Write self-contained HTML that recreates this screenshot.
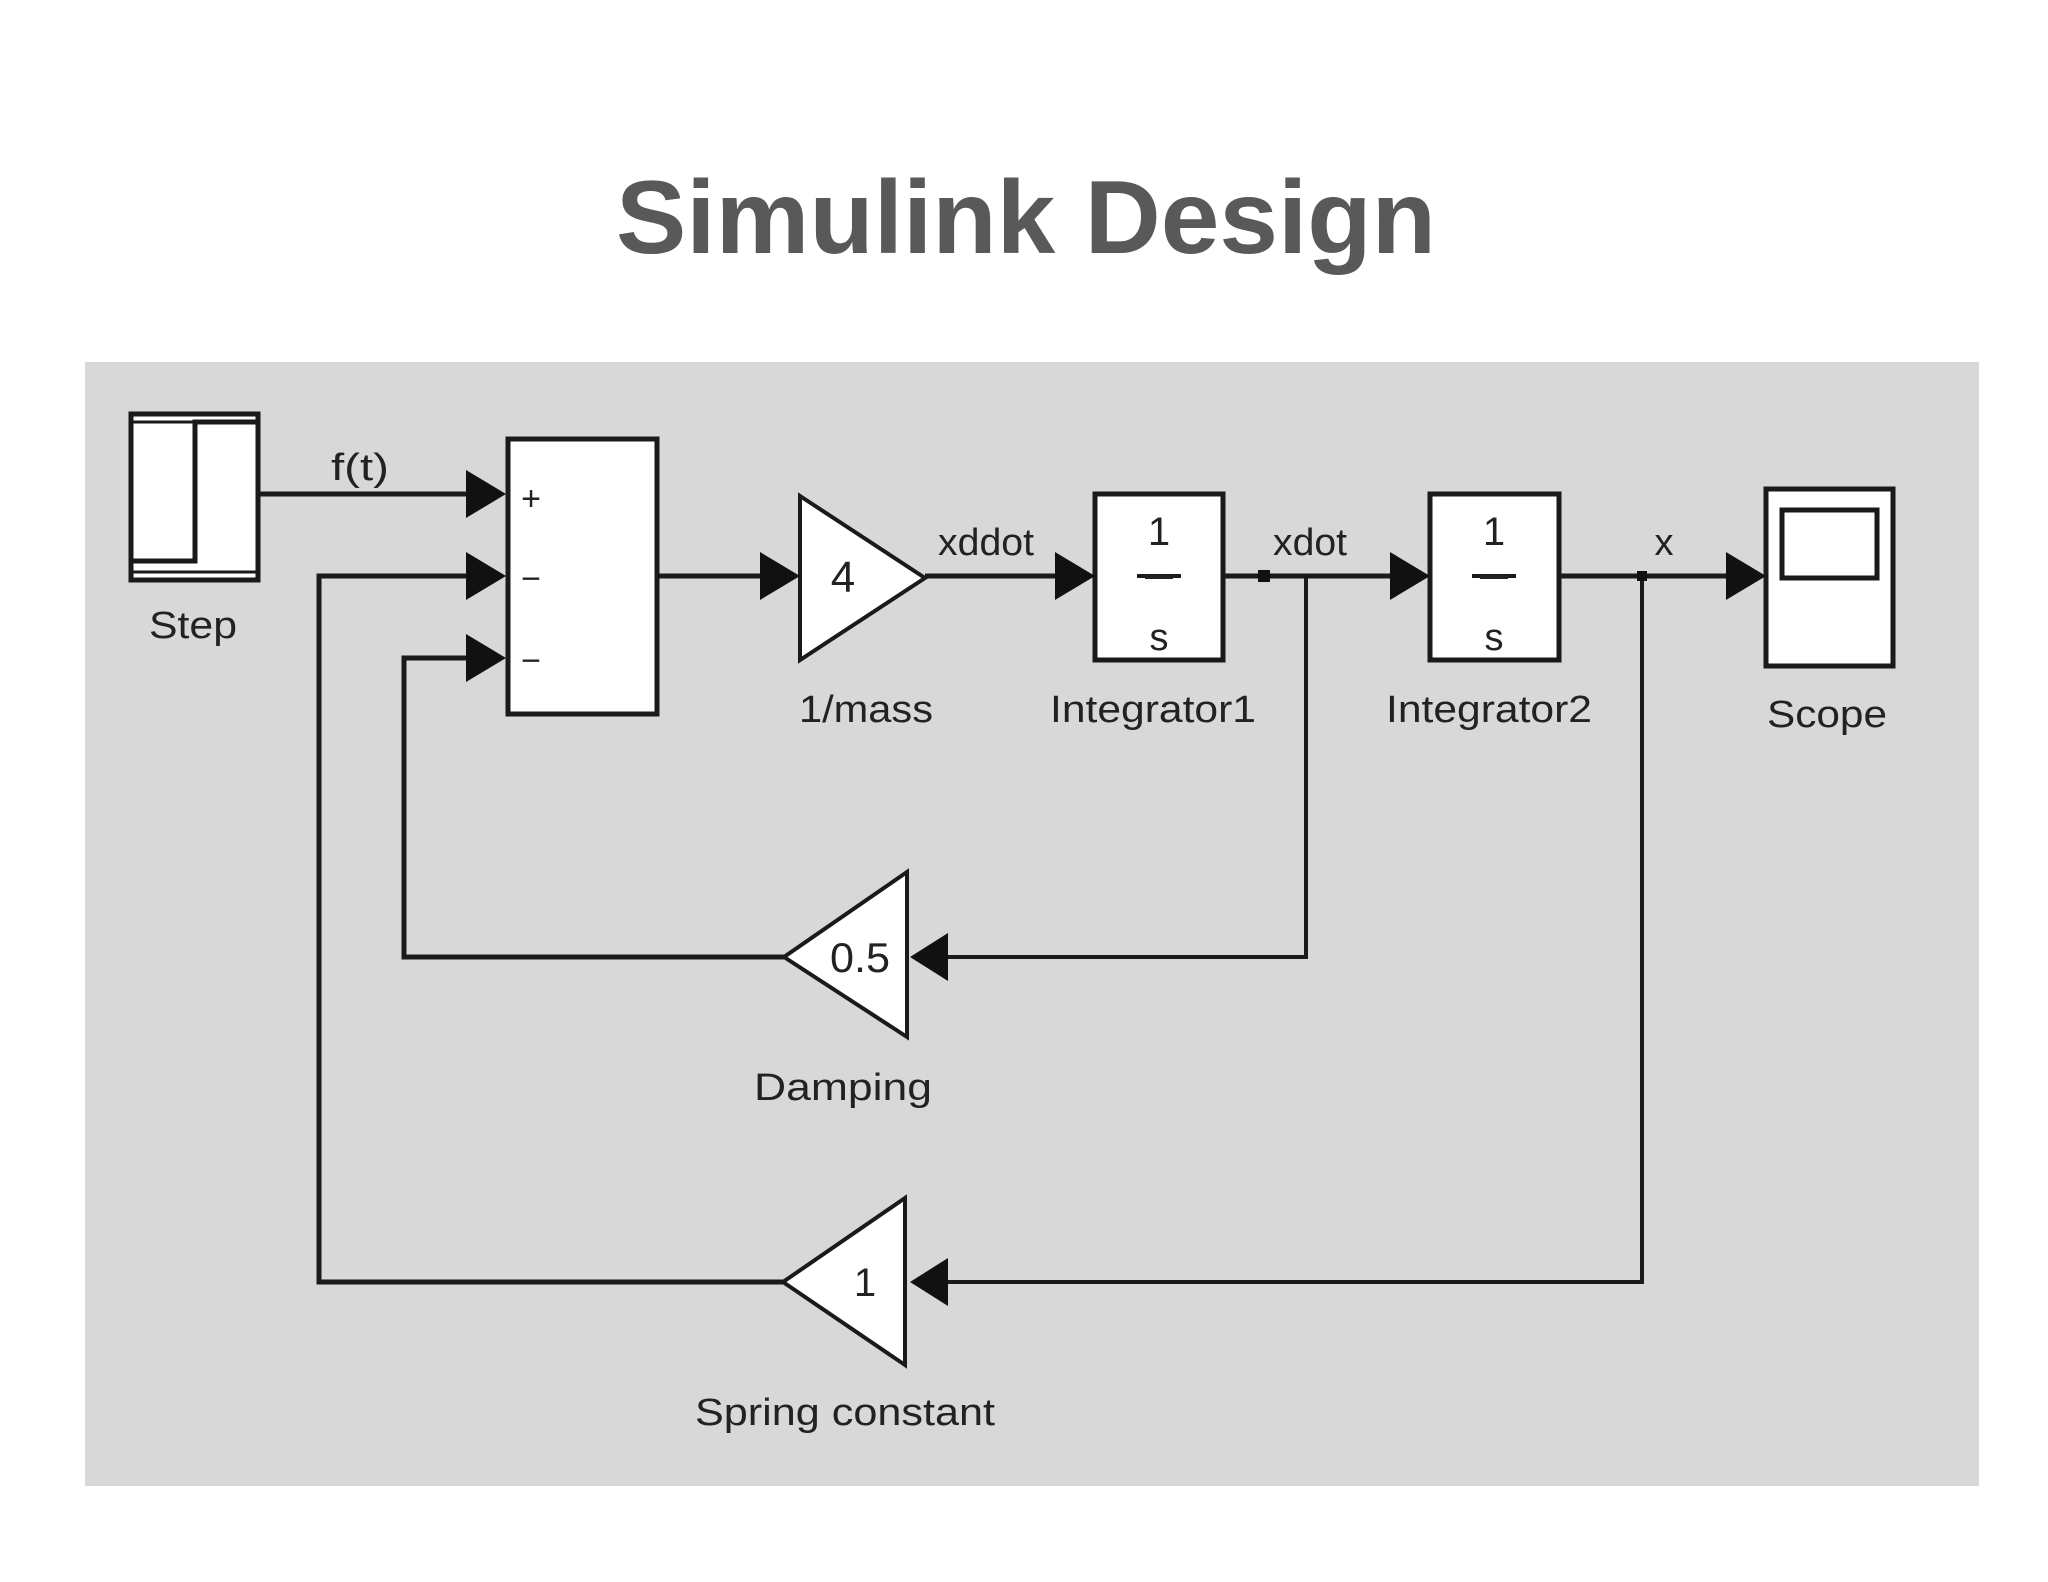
<!DOCTYPE html>
<html><head><meta charset="utf-8"><style>html,body{margin:0;padding:0;background:#fff}svg{display:block}</style></head>
<body>
<svg width="2048" height="1582" viewBox="0 0 2048 1582" xmlns="http://www.w3.org/2000/svg" font-family="Liberation Sans, Arial, sans-serif">
<text x="1026" y="253" text-anchor="middle" font-size="104" font-weight="bold" fill="#595959" textLength="820" lengthAdjust="spacingAndGlyphs">Simulink Design</text>
<rect x="85" y="362" width="1894" height="1124" fill="#d8d8d8"/>
<g stroke="#1a1a1a" stroke-width="5" fill="none">
<!-- step -->
<rect x="131" y="414" width="127" height="166" fill="#fff"/>
<polyline points="131,561 195,561 195,422 258,422"/>
<line x1="131" y1="572" x2="258" y2="572" stroke-width="3"/>
<line x1="131" y1="422" x2="258" y2="422" stroke-width="3"/>
<!-- sum -->
<rect x="508" y="439" width="149" height="275" fill="#fff"/>
<line x1="258" y1="494" x2="470" y2="494"/>
<polyline points="470,576 319,576 319,1282 783,1282"/>
<polyline points="470,658 404,658 404,957 784,957"/>
<line x1="657" y1="576" x2="765" y2="576"/>
<!-- gain -->
<polygon points="800,496 925,578 800,660" fill="#fff" stroke-width="4"/>
<line x1="925" y1="576" x2="1060" y2="576"/>
<rect x="1095" y="494" width="128" height="166" fill="#fff"/>
<line x1="1223" y1="576" x2="1395" y2="576"/>
<rect x="1430" y="494" width="129" height="166" fill="#fff"/>
<line x1="1559" y1="576" x2="1730" y2="576"/>
<rect x="1766" y="489" width="127" height="177" fill="#fff"/>
<rect x="1782" y="510" width="95" height="68" fill="#fff"/>
<polyline points="1306,576 1306,957 948,957" stroke-width="4"/>
<polyline points="1642,576 1642,1282 948,1282" stroke-width="4"/>
<polygon points="907,872 784,957 907,1037" fill="#fff" stroke-width="4"/>
<polygon points="905,1198 783,1282 905,1365" fill="#fff" stroke-width="4"/>
<line x1="1137" y1="576" x2="1181" y2="576" stroke-width="4"/>
<line x1="1472" y1="576" x2="1516" y2="576" stroke-width="4"/>
</g>
<g fill="#111">
<polygon points="466,470 506,494 466,518"/>
<polygon points="466,552 506,576 466,600"/>
<polygon points="466,634 506,658 466,682"/>
<polygon points="760,552 800,576 760,600"/>
<polygon points="1055,552 1095,576 1055,600"/>
<polygon points="1390,552 1430,576 1390,600"/>
<polygon points="1726,552 1766,576 1726,600"/>
<polygon points="948,933 910,957 948,981"/>
<polygon points="948,1258 910,1282 948,1306"/>
<rect x="1258" y="570" width="12" height="12"/>
<rect x="1637" y="571" width="10" height="10"/>
</g>
<g fill="#222" font-size="38">
<text x="193" y="638" text-anchor="middle" textLength="88" lengthAdjust="spacingAndGlyphs">Step</text>
<text x="360" y="480" text-anchor="middle" textLength="58" lengthAdjust="spacingAndGlyphs">f(t)</text>
<text x="531" y="510" text-anchor="middle" font-size="34">+</text>
<text x="531" y="590" text-anchor="middle" font-size="34">−</text>
<text x="531" y="672" text-anchor="middle" font-size="34">−</text>
<text x="843" y="592" text-anchor="middle" font-size="44">4</text>
<text x="866" y="722" text-anchor="middle" textLength="134" lengthAdjust="spacingAndGlyphs">1/mass</text>
<text x="986" y="555" text-anchor="middle" textLength="96" lengthAdjust="spacingAndGlyphs">xddot</text>
<text x="1159" y="545" text-anchor="middle" font-size="40">1</text>
<line x1="1145" y1="577" x2="1173" y2="577" stroke="#222" stroke-width="4"/>
<text x="1159" y="650" text-anchor="middle" font-size="38">s</text>
<text x="1494" y="545" text-anchor="middle" font-size="40">1</text>
<line x1="1480" y1="577" x2="1508" y2="577" stroke="#222" stroke-width="4"/>
<text x="1494" y="650" text-anchor="middle" font-size="38">s</text>
<text x="1310" y="555" text-anchor="middle" textLength="74" lengthAdjust="spacingAndGlyphs">xdot</text>
<text x="1664" y="555" text-anchor="middle">x</text>
<text x="1153" y="722" text-anchor="middle" textLength="206" lengthAdjust="spacingAndGlyphs">Integrator1</text>
<text x="1489" y="722" text-anchor="middle" textLength="206" lengthAdjust="spacingAndGlyphs">Integrator2</text>
<text x="1827" y="727" text-anchor="middle" textLength="120" lengthAdjust="spacingAndGlyphs">Scope</text>
<text x="860" y="972" text-anchor="middle" font-size="42" textLength="60" lengthAdjust="spacingAndGlyphs">0.5</text>
<text x="843" y="1100" text-anchor="middle" textLength="178" lengthAdjust="spacingAndGlyphs">Damping</text>
<text x="865" y="1296" text-anchor="middle" font-size="40">1</text>
<text x="845" y="1425" text-anchor="middle" textLength="300" lengthAdjust="spacingAndGlyphs">Spring constant</text>
</g>
</svg>
</body></html>
